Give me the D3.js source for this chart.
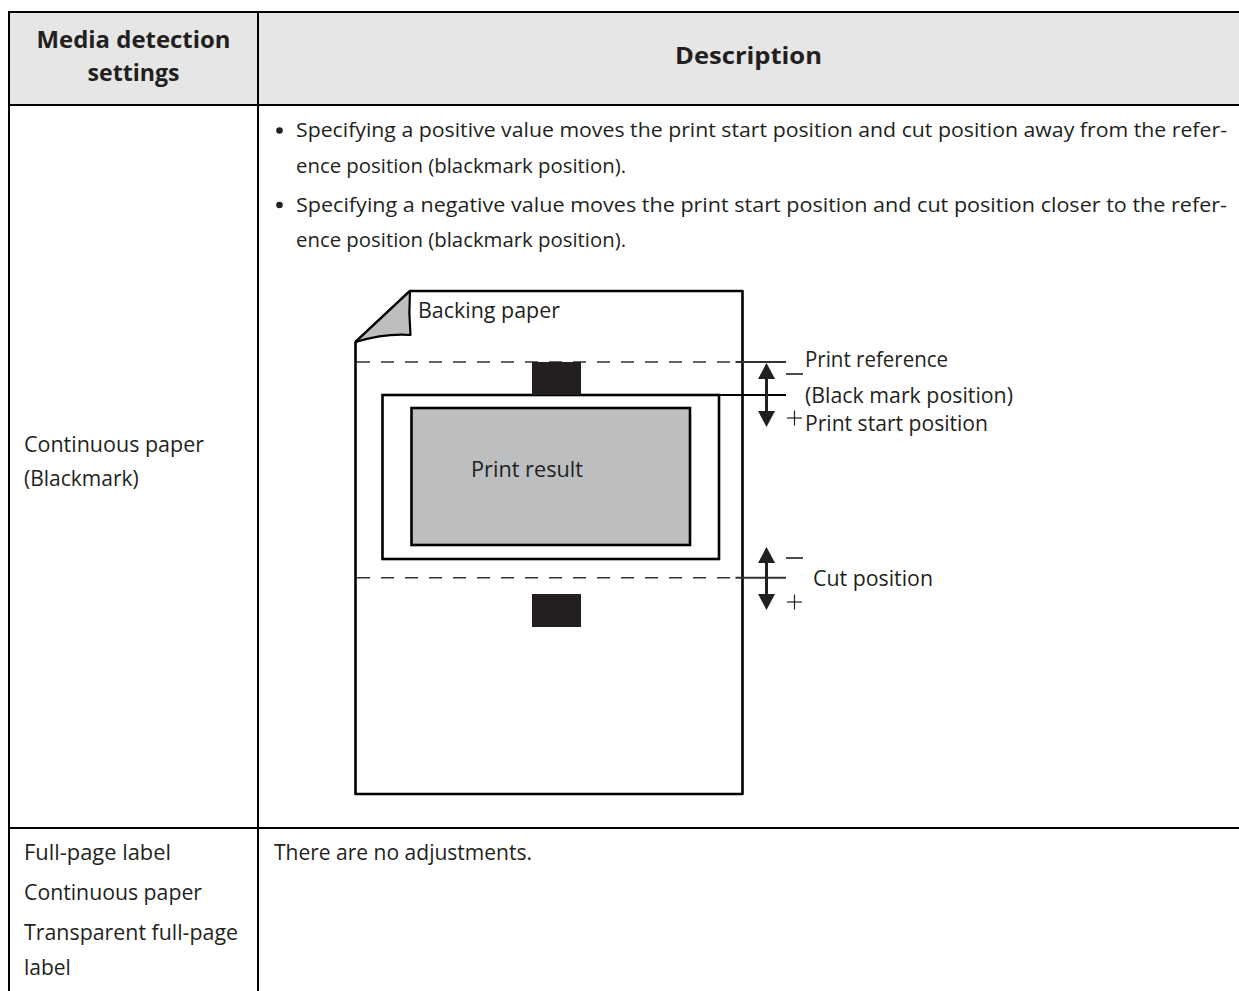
<!DOCTYPE html>
<html>
<head>
<meta charset="utf-8">
<script src="https://cdn.jsdelivr.net/npm/d3@7"></script>
<style>
  html, body { margin: 0; padding: 0; background: #fff; }
  svg { display: block; }
  text { font-family: "Open Sans", "Noto Sans", sans-serif; fill: #231f20; }
</style>
</head>
<body>
<div id="chart"></div>
<script>
// table text
const headerLines = [["Media detection", "settings"], ["Description"]];
const rowLabels = [
	["Continuous paper", "(Blackmark)"],
	["Full-page label", "Continuous paper", "Transparent full-page", "label"]
];
const bulletLines = [
	["Specifying a positive value moves the print start position and cut position away from the refer-", "ence position (blackmark position)."],
	["Specifying a negative value moves the print start position and cut position closer to the refer-", "ence position (blackmark position)."]
];
const noAdjustText = ["There are no adjustments."];

// diagram labels
const paperLabels = ["Backing paper", "Print result"];
const refLabels = ["Print reference", "(Black mark position)", "Print start position"];
const cutLabels = ["Cut position"];

const W = 1239, H = 991;
const FONT = 21;

const svg = d3.select('#chart')
	.append('svg')
	.attr('width', W)
	.attr('height', H);

// writes one line of text; width (if given) is the measured width in the reference
function label(sel, t, x, y, opts = {}) {
	const el = sel.append('text')
		.attr('x', x)
		.attr('y', y)
		.attr('font-size', opts.size || FONT)
		.attr('text-anchor', opts.anchor || 'start')
		.text(t);
	if (opts.bold) el.attr('font-weight', 700);
	if (opts.w) el.attr('textLength', opts.w).attr('lengthAdjust', 'spacingAndGlyphs');
	return el;
}

// table grid
const tx = d3.scaleLinear().domain([0, 1]).range([9, 258]);
const rowY = [12, 105, 828, H + 2];

svg.append('rect')
	.attr('x', tx(0)).attr('y', rowY[0])
	.attr('width', W - tx(0) + 2).attr('height', rowY[1] - rowY[0])
	.attr('fill', '#e6e6e6');

const grid = svg.append('g').attr('stroke', '#000').attr('stroke-width', 2);
rowY.slice(0, 3).forEach(y => {
	grid.append('line').attr('x1', tx(0) - 1).attr('x2', W + 2).attr('y1', y).attr('y2', y);
});
[tx(0), tx(1)].forEach(x => {
	grid.append('line').attr('x1', x).attr('x2', x).attr('y1', rowY[0]).attr('y2', rowY[3]);
});

// header
const headCenters = [(tx(0) + tx(1)) / 2, (tx(1) + W) / 2];
const head = svg.append('g');
label(head, headerLines[0][0], headCenters[0], 47.5, { anchor: 'middle', bold: true, size: 23, w: 194 });
label(head, headerLines[0][1], headCenters[0], 80.5, { anchor: 'middle', bold: true, size: 23, w: 92 });
label(head, headerLines[1][0], headCenters[1], 63.5, { anchor: 'middle', bold: true, size: 23, w: 147 });

// left column labels
const left = svg.append('g');
const leftX = 24;
label(left, rowLabels[0][0], leftX, 452, { w: 180 });
label(left, rowLabels[0][1], leftX, 486);
label(left, rowLabels[1][0], leftX, 860, { w: 147 });
label(left, rowLabels[1][1], leftX, 900, { w: 178 });
label(left, rowLabels[1][2], leftX, 940, { w: 214 });
label(left, rowLabels[1][3], leftX, 975);

// bullets
const bulletX = 279.5, textX = 296;
const bulletBase = [[137, 172.5], [211.5, 247]];
const bullets = svg.append('g');
bulletLines.forEach((lines, i) => {
	bullets.append('circle')
		.attr('cx', bulletX)
		.attr('cy', bulletBase[i][0] - 6.5)
		.attr('r', 3.3)
		.attr('fill', '#231f20');
	lines.forEach((line, j) => {
		label(bullets, line, textX, bulletBase[i][j], { size: 20, w: j === 0 ? 931 : 330 });
	});
});

label(svg, noAdjustText[0], 274, 860, { w: 258 });

// diagram: local units -> page pixels, origin at paper top-left
const dx = d3.scaleLinear().domain([0, 387]).range([355.5, 742.5]);
const dy = d3.scaleLinear().domain([0, 503]).range([291, 794]);
const diag = svg.append('g');

// paper outline with folded corner
const fold = { x: 54.5, y: 51 };
diag.append('path')
	.attr('d', d3.line()([
		[dx(0), dy(fold.y)], [dx(0), dy(503)], [dx(387), dy(503)],
		[dx(387), dy(0)], [dx(fold.x), dy(0)], [dx(0), dy(fold.y)]
	]))
	.attr('fill', '#fff')
	.attr('stroke', '#000')
	.attr('stroke-width', 2.6)
	.attr('stroke-linejoin', 'round');

const flap = d3.path();
flap.moveTo(dx(fold.x), dy(0));
flap.lineTo(dx(0), dy(fold.y));
flap.quadraticCurveTo(dx(30), dy(42), dx(55), dy(44));
flap.quadraticCurveTo(dx(53), dy(22), dx(fold.x), dy(0));
flap.closePath();
diag.append('path')
	.attr('d', flap.toString())
	.attr('fill', '#bcbec0')
	.attr('stroke', '#000')
	.attr('stroke-width', 2.2)
	.attr('stroke-linejoin', 'round');

// dashed reference lines
const dashY = [71, 286.7];
dashY.forEach(y => {
	diag.append('line')
		.attr('x1', dx(1.5)).attr('x2', dx(387))
		.attr('y1', dy(y)).attr('y2', dy(y))
		.attr('stroke', '#333')
		.attr('stroke-width', 1.5)
		.attr('stroke-dasharray', '13,11');
	diag.append('line')
		.attr('x1', dx(380)).attr('x2', dx(430.5))
		.attr('y1', dy(y)).attr('y2', dy(y))
		.attr('stroke', '#333')
		.attr('stroke-width', 2);
});

// label outline + top edge extended out
diag.append('rect')
	.attr('x', dx(27)).attr('y', dy(104))
	.attr('width', dx(363.5) - dx(27)).attr('height', dy(268) - dy(104))
	.attr('fill', 'none')
	.attr('stroke', '#000')
	.attr('stroke-width', 2.6);
diag.append('line')
	.attr('x1', dx(363.5)).attr('x2', dx(430.5))
	.attr('y1', dy(104)).attr('y2', dy(104))
	.attr('stroke', '#000')
	.attr('stroke-width', 2);

// print result
diag.append('rect')
	.attr('x', dx(56)).attr('y', dy(117))
	.attr('width', dx(334.5) - dx(56)).attr('height', dy(254) - dy(117))
	.attr('fill', '#bcbec0')
	.attr('stroke', '#000')
	.attr('stroke-width', 2.6);

// black marks
[[71, 104], [303, 336]].forEach(([y0, y1]) => {
	diag.append('rect')
		.attr('x', dx(176.5)).attr('y', dy(y0))
		.attr('width', dx(225.5) - dx(176.5)).attr('height', dy(y1) - dy(y0))
		.attr('fill', '#231f20');
});

// double arrows
const arrowX = dx(411);
[[72, 136], [256, 319]].forEach(([y0, y1]) => {
	const g = diag.append('g').attr('fill', '#231f20');
	g.append('line')
		.attr('x1', arrowX).attr('x2', arrowX)
		.attr('y1', dy(y0) + 8).attr('y2', dy(y1) - 8)
		.attr('stroke', '#231f20')
		.attr('stroke-width', 3);
	g.append('path').attr('d', d3.line()([
		[arrowX, dy(y0)], [arrowX + 8.5, dy(y0) + 16], [arrowX - 8.5, dy(y0) + 16]
	]) + 'Z');
	g.append('path').attr('d', d3.line()([
		[arrowX, dy(y1)], [arrowX + 8.5, dy(y1) - 16], [arrowX - 8.5, dy(y1) - 16]
	]) + 'Z');
});

// minus / plus marks
const markX = dx(439);
[[83, 127], [267, 311]].forEach(([ym, yp]) => {
	diag.append('line')
		.attr('x1', markX - 8.5).attr('x2', markX + 8.5)
		.attr('y1', dy(ym)).attr('y2', dy(ym))
		.attr('stroke', '#231f20').attr('stroke-width', 1.6);
	diag.append('line')
		.attr('x1', markX - 7.5).attr('x2', markX + 7.5)
		.attr('y1', dy(yp)).attr('y2', dy(yp))
		.attr('stroke', '#231f20').attr('stroke-width', 1.2);
	diag.append('line')
		.attr('x1', markX).attr('x2', markX)
		.attr('y1', dy(yp) - 7.5).attr('y2', dy(yp) + 7.5)
		.attr('stroke', '#231f20').attr('stroke-width', 1.2);
});

// diagram text
label(diag, paperLabels[0], dx(62.5), dy(27), { w: 142 });
label(diag, paperLabels[1], dx(115.5), dy(186), { w: 112 });

const refY = [75.5, 112.3, 140];
const refW = [143, 208, 183];
refLabels.forEach((t, i) => {
	label(diag, t, dx(449.5), dy(refY[i]), { w: refW[i] });
});
label(diag, cutLabels[0], dx(457.5), dy(294.7), { w: 120 });
</script>
</body>
</html>
